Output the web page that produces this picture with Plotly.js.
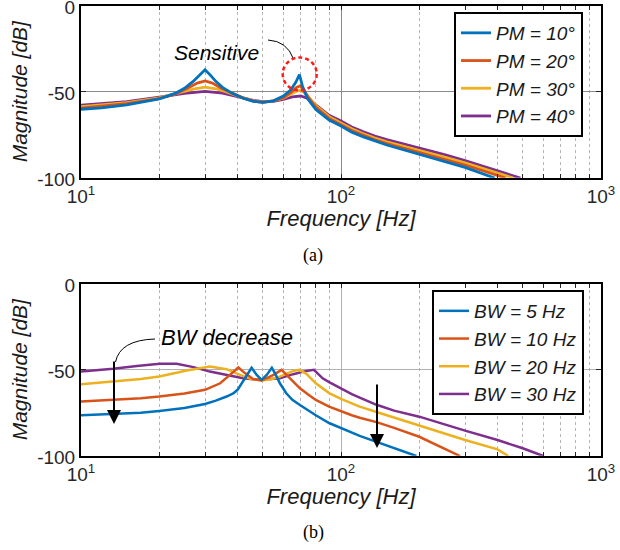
<!DOCTYPE html>
<html>
<head>
<meta charset="utf-8">
<script src="https://cdn.plot.ly/plotly-3.0.1.min.js"></script>
<style>html,body{margin:0;padding:0;background:#fff;}#chart{width:620px;height:550px;}</style>
</head>
<body>
<div id="chart"></div>
<script>
// ---------- Data (a): phase margin ----------
const pmNames = ['PM = 10°', 'PM = 20°', 'PM = 30°', 'PM = 40°'];
const pm10F = [10,12,15,18,20,23,25,27,28.5,30,31.5,33,35,38,42,46,50,55,60,64,67,69.2,71,74,80,90,100,110,122,135,150,175,200,250,300,390];
const pm10M = [-60.2,-59.4,-57.6,-55.6,-54.2,-51,-48,-44,-40.5,-37.2,-40.5,-44,-47.5,-50.8,-53.8,-55.6,-56.2,-55.3,-52.5,-49,-44.5,-40,-46.5,-53.5,-60.3,-66.5,-70,-73.5,-76.3,-78.8,-81,-83.9,-86.4,-90.5,-94,-100.2];
const pm20F = [10,15,20,23,26,28,30,32,34.5,38,42,46,50,55,60,64,67.5,69.5,72,75,80,90,100,110,122,135,150,175,200,250,300,430];
const pm20M = [-59.5,-57,-54,-51.5,-47.5,-45,-43.7,-45,-47.8,-50.8,-53.6,-55.5,-56.2,-55.4,-53.5,-50.5,-47.5,-46.6,-49,-53.5,-59,-65.5,-69,-72.6,-75.4,-78,-80.2,-82.9,-85.2,-89.3,-92.6,-100.2];
const pm30F = [10,15,20,24,27,30,33,36,40,46,50,55,60,64,68,70,73,76,80,90,100,110,122,135,150,175,200,250,300,460];
const pm30M = [-58.7,-56.4,-53.6,-50.5,-48.5,-47.3,-48.3,-50,-52.5,-55.3,-56,-55.4,-53.8,-51.5,-49.5,-49.2,-51,-54,-58,-64.5,-68,-71.6,-74.4,-77,-79.2,-81.8,-84,-88,-91.3,-100.2];
const pm40F = [10,15,20,25,30,35,40,46,50,55,60,65,70,74,78,85,90,100,110,122,135,150,175,200,250,300,400,490];
const pm40M = [-57.8,-55.8,-53.2,-51,-49.8,-50.8,-52.8,-55,-55.8,-55.6,-54.5,-53,-52.5,-53.8,-56.3,-60.8,-63.7,-67,-70.5,-73.3,-75.8,-77.9,-80.4,-82.6,-86.6,-90.1,-95.8,-100.2];

// ---------- Data (b): bandwidth ----------
const bwNames = ['BW = 5 Hz', 'BW = 10 Hz', 'BW = 20 Hz', 'BW = 30 Hz'];
const bw5F = [10,13.3,17,20,25,30,33,36.3,38.5,40,42.3,44.2,45.3,47.4,49.5,51.8,54.2,55.7,58.2,61.6,65,69.5,80,90,100,110,118,137,160,195];
const bw5M = [-76.5,-75.9,-75,-74,-72.3,-69.9,-68,-65.6,-63.8,-61.7,-55.9,-51.1,-48.9,-53,-55.9,-53,-48.9,-52,-57.9,-63.7,-67.5,-70.5,-76.5,-81,-84,-86.8,-88.5,-92,-95.5,-100.2];
const bw10F = [10,13.3,17,20,25,30,34.3,37.4,40.3,42.7,46,49.5,55,59.1,63.5,69.5,75,80,90,100,110,118,137,160,200,287];
const bw10M = [-68.5,-67.6,-66.6,-65.6,-63.8,-61.7,-57.9,-53,-48.7,-52,-55.5,-56.3,-53,-50.1,-55,-60.8,-64.6,-67.6,-71.5,-74.3,-76.5,-77.9,-80.5,-83.8,-89,-100.2];
const bw20F = [10,13.3,17,20,25.5,31.3,36.3,40.9,45,49.5,54,58.2,65.5,69.2,73.6,80,90,100,110,118,137,160,200,300,400,440];
const bw20M = [-58.4,-56.9,-55.4,-54,-50.5,-48.2,-49.7,-53,-55.3,-56.3,-55.5,-54,-50.7,-50.1,-52.4,-57.9,-63.6,-67,-69.8,-71.5,-74.6,-77.8,-82.2,-90.9,-96.3,-100.2];
const bw30F = [10,13.3,16.4,20.1,23.3,27.1,31.3,36.3,42,49.5,58.2,65.5,73.6,78.7,85,90,100,110,118,137,160,200,300,400,500,600];
const bw30M = [-51,-49.5,-47.8,-46.6,-46.6,-48.5,-51.1,-53,-55,-55.9,-55,-52.6,-50.7,-50.1,-55,-57.2,-61,-64.2,-66.2,-70.4,-73.8,-77.3,-85.4,-90.9,-95.7,-100.2];

const xTickVals = [10, 100, 1000];
const xTickText = ['10<sup>1</sup>', '10<sup>2</sup>', '10<sup>3</sup>'];
const xMinorVals = [20,30,40,50,60,70,80,90,200,300,400,500,600,700,800,900];
const yTickVals = [-100, -50, 0];
const yTickText = ['-100', '-50', '0'];

const colors = ['#0072BD', '#D95319', '#EDB120', '#7E2F8E'];
const SANS = 'Liberation Sans, Arial, sans-serif';

const pmF = [pm10F, pm20F, pm30F, pm40F];
const pmM = [pm10M, pm20M, pm30M, pm40M];
const bwF = [bw5F, bw10F, bw20F, bw30F];
const bwM = [bw5M, bw10M, bw20M, bw30M];

const traces = [];
// add in reverse so the first series is drawn on top; legends reversed back
for (let i = 3; i >= 0; i--) {
  traces.push({x: pmF[i], y: pmM[i], name: pmNames[i], type: 'scatter', mode: 'lines',
    line: {color: colors[i], width: 2.8}, xaxis: 'x', yaxis: 'y', legend: 'legend'});
}
for (let i = 3; i >= 0; i--) {
  traces.push({x: bwF[i], y: bwM[i], name: bwNames[i], type: 'scatter', mode: 'lines',
    line: {color: colors[i], width: 2.5}, xaxis: 'x2', yaxis: 'y2', legend: 'legend2'});
}

function xAxis(domain, anchor, gridColor) {
  return {
    type: 'log', range: [1, 3], domain: domain, anchor: anchor,
    tickmode: 'array', tickvals: xTickVals, ticktext: xTickText,
    ticks: 'inside', ticklen: 4, tickwidth: 1, tickcolor: '#262626',
    showgrid: true, gridcolor: gridColor, gridwidth: 1,
    minor: {tickmode: 'array', tickvals: xMinorVals, ticks: 'inside', ticklen: 4, tickcolor: '#262626',
            showgrid: true, gridcolor: '#b5b5b5', griddash: 'dot', gridwidth: 1},
    showline: true, linecolor: '#000', linewidth: 2, mirror: 'allticks',
    tickfont: {family: SANS, size: 19, color: '#262626'},
    ticklabeloverflow: 'allow',
    title: {text: 'Frequency [Hz]', font: {family: SANS, size: 22, color: '#1a1a1a', style: 'italic'}, standoff: 2},
    zeroline: false, automargin: false
  };
}
function yAxis(domain, anchor, gridColor) {
  return {
    range: [-100, 0], domain: domain, anchor: anchor,
    tickmode: 'array', tickvals: yTickVals, ticktext: yTickText,
    ticks: 'inside', ticklen: 5, tickwidth: 1, tickcolor: '#262626',
    showgrid: true, gridcolor: gridColor, gridwidth: 1,
    showline: true, linecolor: '#000', linewidth: 2, mirror: 'allticks',
    tickfont: {family: SANS, size: 19, color: '#262626'},
    ticklabeloverflow: 'allow', ticklabelshift: 2,
    title: {text: 'Magnitude [dB]', font: {family: SANS, size: 21, color: '#1a1a1a', style: 'italic'}, standoff: 4},
    zeroline: false, automargin: false
  };
}

const W = 620, H = 550;
const px = v => v / W;
const py = v => 1 - v / H;

const legendBase = {
  bgcolor: '#fff', bordercolor: '#000', borderwidth: 2,
  font: {family: SANS, size: 19, color: '#1a1a1a', style: 'italic'},
  traceorder: 'reversed', xanchor: 'left', yanchor: 'top', tracegroupgap: 0
};

const layout = {
  width: W, height: H,
  margin: {l: 0, r: 0, t: 0, b: 0},
  paper_bgcolor: '#fff', plot_bgcolor: '#fff',
  showlegend: true,
  xaxis: xAxis([px(81), px(601)], 'y', '#8a8a8a'),
  yaxis: yAxis([py(177.7), py(5.7)], 'x', '#8a8a8a'),
  xaxis2: xAxis([px(81), px(601)], 'y2', '#b0b0b0'),
  yaxis2: yAxis([py(455.7), py(283.7)], 'x2', '#b0b0b0'),
  legend: Object.assign({}, legendBase, {x: px(454), y: py(12)}),
  legend2: Object.assign({}, legendBase, {x: px(432), y: py(290)}),
  annotations: [
    {text: 'Sensitive', xref: 'paper', yref: 'paper', x: px(216), y: py(39), showarrow: false,
     font: {family: SANS, size: 21, color: '#000', style: 'italic'}},
    {text: 'BW decrease', xref: 'paper', yref: 'paper', x: px(227), y: py(337), showarrow: false,
     font: {family: SANS, size: 22, color: '#000', style: 'italic'}},
    {text: '', xref: 'paper', yref: 'paper', x: px(114), y: py(424), ax: 0, ay: -64,
     showarrow: true, arrowhead: 2, arrowsize: 1.4, arrowwidth: 2, arrowcolor: '#000'},
    {text: '', xref: 'paper', yref: 'paper', x: px(377), y: py(448), ax: 0, ay: -65,
     showarrow: true, arrowhead: 2, arrowsize: 1.4, arrowwidth: 2, arrowcolor: '#000'},
    {text: '(a)', xref: 'paper', yref: 'paper', x: px(313), y: py(255), showarrow: false,
     yanchor: 'middle', font: {family: 'Liberation Serif, Times New Roman, serif', size: 18, color: '#000'}},
    {text: '(b)', xref: 'paper', yref: 'paper', x: px(313), y: py(532), showarrow: false,
     yanchor: 'middle', font: {family: 'Liberation Serif, Times New Roman, serif', size: 18, color: '#000'}}
  ],
  shapes: [
    {type: 'path', xref: 'paper', yref: 'paper',
     path: `M ${px(268)},${py(40)} Q ${px(287)},${py(41)} ${px(293.5)},${py(59)}`,
     line: {color: '#000', width: 1}},
    {type: 'circle', xref: 'paper', yref: 'paper',
     x0: px(282.7), x1: px(316.7), y0: py(90.5), y1: py(57.5),
     line: {color: '#ff1a1a', width: 2.5, dash: '4px,3px'}},
    {type: 'path', xref: 'paper', yref: 'paper',
     path: `M ${px(155)},${py(339)} Q ${px(120)},${py(340)} ${px(115.5)},${py(362)}`,
     line: {color: '#000', width: 1}}
  ]
};

Plotly.newPlot('chart', traces, layout, {staticPlot: true, displayModeBar: false});
</script>
</body>
</html>
